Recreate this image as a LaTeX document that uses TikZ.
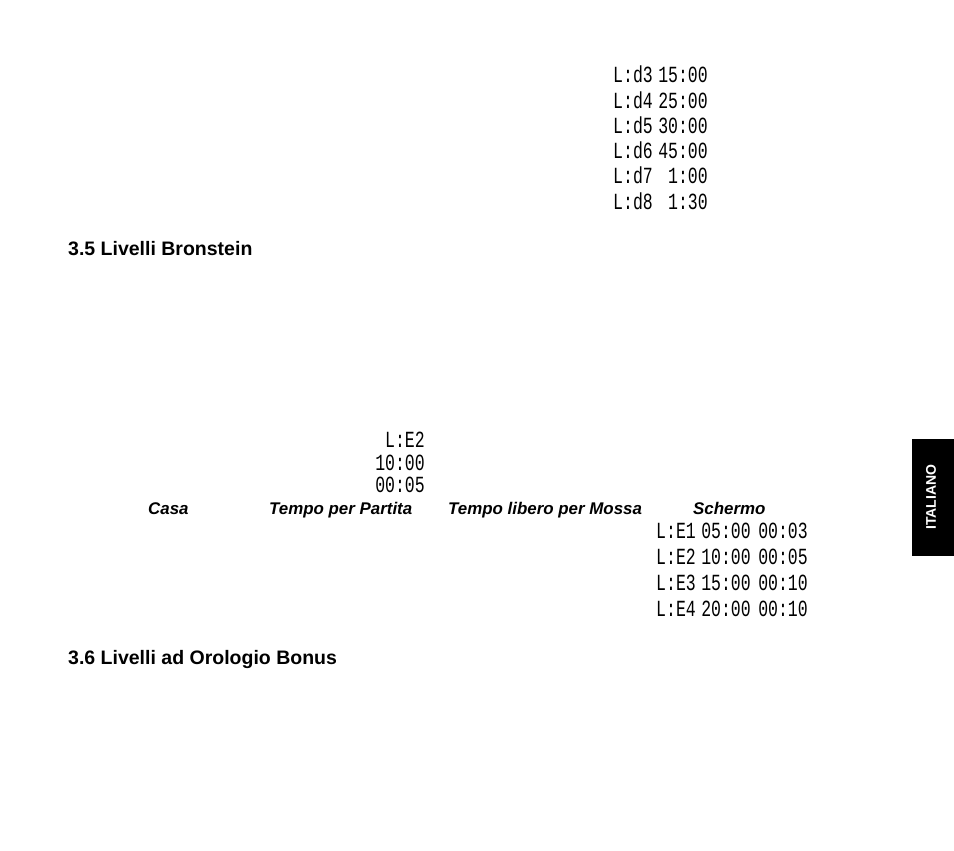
\documentclass[tikz,border=0pt]{standalone}
\usepackage{fontspec}
\setmainfont{Liberation Sans}
\newfontfamily\lcdfont{Liberation Mono}
\begin{document}
\begin{tikzpicture}[x=1pt,y=-1pt,
  lcd/.style={inner sep=0pt,font=\lcdfont\fontsize{16.5}{16.5}\selectfont},
  head/.style={inner sep=0pt,anchor=base west,font=\fontsize{19.5}{22}\selectfont\bfseries},
  colhead/.style={inner sep=0pt,anchor=base west,font=\fontsize{16.9}{19}\selectfont\bfseries\itshape}]
\useasboundingbox (0,0) rectangle (954,851);
\newcommand\lcdtxt[1]{\scalebox{1}[1.4]{#1}}
% top block
\foreach \i/\lab/\tm in {0/L:d3/15:00,1/L:d4/25:00,2/L:d5/30:00,3/L:d6/45:00,4/L:d7/1:00,5/L:d8/1:30}{
  \node[lcd,anchor=base west] (dl\i) at (613,{83+25.2*\i}) {\lcdtxt{\lab}};
  \node[lcd,anchor=base east] (dt\i) at (708,{83+25.2*\i}) {\lcdtxt{\tm}};
}
\node[head] (h35) at (68,255) {3.5 Livelli Bronstein};
% middle block
\node[lcd,anchor=base east] (m1) at (425,447) {\lcdtxt{L:E2}};
\node[lcd,anchor=base east] (m2) at (425,470) {\lcdtxt{10:00}};
\node[lcd,anchor=base east] (m3) at (425,492) {\lcdtxt{00:05}};
% table header
\node[colhead] (c1) at (148,514) {Casa};
\node[colhead] (c2) at (269,514) {Tempo per Partita};
\node[colhead] (c3) at (448,514) {Tempo libero per Mossa};
\node[colhead] (c4) at (693,514) {Schermo};
% table rows
\foreach \i/\lab/\ta/\tb in {0/L:E1/05:00/00:03,1/L:E2/10:00/00:05,2/L:E3/15:00/00:10,3/L:E4/20:00/00:10}{
  \node[lcd,anchor=base west] (el\i) at (656,{538+26.3*\i}) {\lcdtxt{\lab}};
  \node[lcd,anchor=base east] (ea\i) at (751,{538+26.3*\i}) {\lcdtxt{\ta}};
  \node[lcd,anchor=base east] (eb\i) at (808,{538+26.3*\i}) {\lcdtxt{\tb}};
}
\node[head] (h36) at (68,664) {3.6 Livelli ad Orologio Bonus};
% side tab
\fill[black] (912,439) rectangle (954,556);
\node[inner sep=0pt,rotate=90,text=white,font=\fontsize{14}{15}\selectfont\bfseries] (tab) at (931,497) {ITALIANO};
\end{tikzpicture}
\end{document}
